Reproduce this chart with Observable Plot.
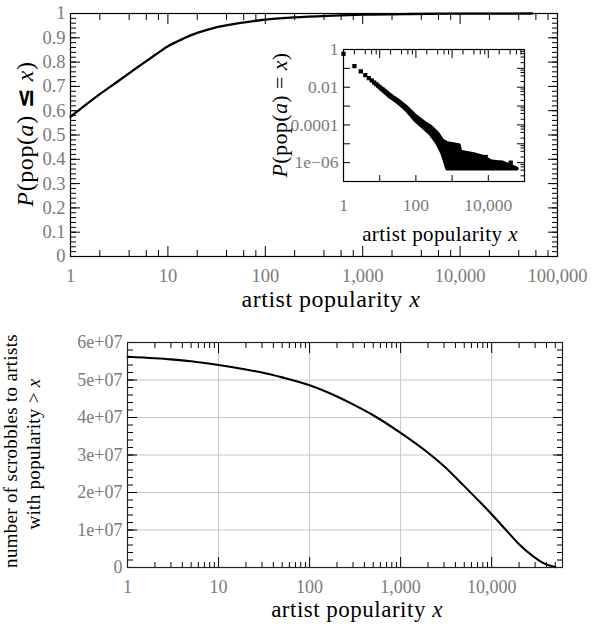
<!DOCTYPE html>
<html><head><meta charset="utf-8">
<script src="https://cdn.jsdelivr.net/npm/d3@7"></script>
<script src="https://cdn.jsdelivr.net/npm/@observablehq/plot@0.6"></script>
<style>
body{margin:0;background:#fff}
#wrap{position:relative;width:609px;height:630px;overflow:hidden;background:#fff}
#wrap svg{position:absolute}
</style></head><body><div id="wrap"></div>
<script>
// ---------- data ----------
// top chart: cumulative distribution P(pop(a) <= x)
const cdfX = [1, 2, 3, 4, 5, 6, 7, 8, 10, 13, 15, 20, 30, 50, 70, 100, 200, 500, 1000, 3000, 10000, 55000];
const cdfY = [0.575, 0.668, 0.718, 0.754, 0.782, 0.804, 0.823, 0.839, 0.865, 0.888, 0.9, 0.92, 0.941, 0.958, 0.967, 0.975, 0.984, 0.991, 0.995, 0.998, 0.9993, 1.0];

// inset: P(pop(a) = x) — discrete points for small x
const pmfX = [1, 2, 3, 4, 5, 6, 7, 8, 9, 10, 11, 12, 13, 14, 15, 16, 17, 18, 19, 20];
const pmfY = [0.589, 0.132, 0.0692, 0.0437, 0.0302, 0.0229, 0.0178, 0.0145, 0.0120, 0.0100,
              0.00851, 0.00759, 0.00661, 0.00589, 0.00525, 0.00479, 0.00427, 0.00389, 0.00355, 0.00331];
// inset: dense scatter band (upper / lower envelope of the points)
const bandX  = [20, 31.6, 56.2, 100, 178, 263, 398, 550, 759, 1585, 1738, 4074, 7586, 11749, 27542, 63096];
const bandHi = [3.55e-3, 2.0e-3, 8.32e-4, 2.82e-4, 1.20e-4, 7.59e-5, 3.55e-5, 1.41e-5, 1.0e-5, 7.94e-6, 3.55e-6, 2.63e-6, 1.91e-6, 1.12e-6, 8.91e-7, 4.57e-7];
const bandLo = [3.02e-3, 1.58e-3, 6.03e-4, 1.66e-4, 6.31e-5, 3.16e-5, 1.07e-5, 3.16e-6, 4.57e-7, 4.57e-7, 4.57e-7, 4.57e-7, 4.57e-7, 4.57e-7, 4.57e-7, 4.57e-7];
const outX = [8511, 22387, 41687];
const outY = [2.0e-6, 1.0e-6, 1.0e-6];

// bottom chart: scrobbles to artists with popularity > x
const scrX = [1, 2, 3, 5, 10, 20, 30, 50, 100, 200, 300, 500, 1000, 2000, 3000, 5000, 7000, 10000, 15000, 20000, 30000, 35000, 40000, 45000, 50000];
const scrY = [5.62e7, 5.58e7, 5.55e7, 5.50e7, 5.40e7, 5.28e7, 5.20e7, 5.07e7, 4.86e7, 4.56e7, 4.35e7, 4.06e7, 3.59e7, 3.06e7, 2.70e7, 2.17e7, 1.81e7, 1.42e7, 0.95e7, 0.62e7, 0.26e7, 0.15e7, 0.08e7, 0.04e7, 0.01e7];

// tick labels
const topXTicks = [1, 10, 100, 1000, 10000, 100000];
const topXLabels = ["1", "10", "100", "1,000", "10,000", "100,000"];
const topYTicks = [0, 0.1, 0.2, 0.3, 0.4, 0.5, 0.6, 0.7, 0.8, 0.9, 1];
const topYLabels = ["0", "0.1", "0.2", "0.3", "0.4", "0.5", "0.6", "0.7", "0.8", "0.9", "1"];
const insXTicks = [1, 100, 10000];
const insXLabels = ["1", "100", "10,000"];
const insYTicks = [1, 0.01, 0.0001, 0.000001];
const insYLabels = ["1", "0.01", "0.0001", "1e\u221206"];
const botXTicks = [1, 10, 100, 1000, 10000];
const botXLabels = ["1", "10", "100", "1,000", "10,000"];
const botYTicks = [0, 1e7, 2e7, 3e7, 4e7, 5e7, 6e7];
const botYLabels = ["0", "1e+07", "2e+07", "3e+07", "4e+07", "5e+07", "6e+07"];

// ---------- helpers ----------
const decades = (a, b) => d3.range(a, b + 1).map(e => Math.pow(10, e));
const minors = (a, b, mult) => decades(a, b).flatMap(d => mult.map(m => m * d));
const GRAY = "#7a7a7a";
const zip = (xs, ys) => xs.map((x, i) => ({x, y: ys[i]}));

function tx(values, anchor, size) {
  return Plot.axisX(values, {anchor, tickSize: -size, fill: "none", stroke: "black", label: null});
}
function ty(values, anchor, size) {
  return Plot.axisY(values, {anchor, tickSize: -size, fill: "none", stroke: "black", label: null});
}
function lx(values, labels, pad, fs) {
  const m = new Map(values.map((v, i) => [v, labels[i]]));
  return Plot.axisX(values, {anchor: "bottom", tickSize: 0, tickPadding: pad, tickFormat: d => m.get(d), fill: GRAY, fontSize: fs, label: null});
}
function ly(values, labels, pad, fs) {
  const m = new Map(values.map((v, i) => [v, labels[i]]));
  return Plot.axisY(values, {anchor: "left", tickSize: 0, tickPadding: pad, tickFormat: d => m.get(d), fill: GRAY, fontSize: fs, label: null});
}
function addText(svg, x, y, rot, size, ls, parts) {
  const g = d3.select(svg).append("g").attr("transform", `translate(${x},${y}) rotate(${rot})`);
  const t = g.append("text").attr("text-anchor", "middle").attr("font-size", size)
    .attr("letter-spacing", ls)
    .attr("font-family", "Liberation Serif").attr("fill", "black");
  for (const [s, st] of parts) {
    const sp = t.append("tspan").text(s);
    if (st === "i") sp.attr("font-style", "italic");
    if (st === "s") sp.attr("font-family", "DejaVu Sans").attr("font-weight", "bold");
  }
}
const svgStyle = (l, t) => ({position: "absolute", left: l + "px", top: t + "px", background: "transparent", fontFamily: "Liberation Serif", overflow: "visible"});

const wrap = document.getElementById("wrap");

// ---------- top chart ----------
const topSvg = Plot.plot({
  width: 609, height: 320,
  marginLeft: 70, marginRight: 52, marginTop: 13, marginBottom: 64,
  style: svgStyle(0, 0),
  x: {type: "log", domain: [1, 1e5]},
  y: {domain: [0, 1]},
  marks: [
    Plot.line(zip(cdfX, cdfY), {x: "x", y: "y", stroke: "black", strokeWidth: 2.3, curve: "monotone-x"}),
    tx(decades(0, 5), "bottom", 10), tx(minors(0, 4, [2, 4, 6, 8]), "bottom", 6),
    tx(decades(0, 5), "top", 10), tx(minors(0, 4, [2, 4, 6, 8]), "top", 6),
    ty(topYTicks, "left", 10), ty(d3.range(0, 50).map(i => i * 0.02), "left", 6),
    ty(topYTicks, "right", 10), ty(d3.range(0, 50).map(i => i * 0.02), "right", 6),
    lx(topXTicks, topXLabels, 12, 18.5),
    ly(topYTicks, topYLabels, 5, 18.5),
    Plot.frame({stroke: "black", strokeWidth: 1.2})
  ]
});
addText(topSvg, 33, 134, -90, 24, 0.6, [["P", "i"], ["(pop(", ""], ["a", "i"], [") ", ""], ["\u2264", "s"], [" ", ""], ["x", "i"], [")", ""]]);
addText(topSvg, 331, 307, 0, 24, 0.5, [["artist popularity ", ""], ["x", "i"]]);
wrap.appendChild(topSvg);

// ---------- inset ----------
const insSvg = Plot.plot({
  width: 290, height: 225,
  marginLeft: 93, marginRight: 16, marginTop: 19, marginBottom: 74,
  style: svgStyle(250, 30),
  x: {type: "log", domain: [1, 1e5]},
  y: {type: "log", domain: [1e-7, 1]},
  marks: [
    Plot.areaY(bandX.map((x, i) => ({x, lo: bandLo[i], hi: bandHi[i]})), {x: "x", y1: "lo", y2: "hi", fill: "black", stroke: "black", strokeWidth: 4}),
    Plot.dot(zip(pmfX, pmfY), {x: "x", y: "y", symbol: "square", r: 2.4, fill: "black"}),
    Plot.dot(zip(outX, outY), {x: "x", y: "y", symbol: "square", r: 2.4, fill: "black"}),
    tx(decades(1, 4), "bottom", 6),
    tx(decades(0, 5), "top", 8), tx(minors(0, 4, [2, 4, 6, 8]), "top", 4.5),
    ty(decades(-7, 0), "left", 7),
    ty(decades(-7, 0), "right", 8), ty(minors(-7, -1, [2, 4, 6, 8]), "right", 4.5),
    lx(insXTicks, insXLabels, 17, 17.5),
    ly(insYTicks, insYLabels, 5, 17.5),
    Plot.frame({stroke: "black", strokeWidth: 1.2})
  ]
});
addText(insSvg, 37, 85, -90, 22, 0.4, [["P", "i"], ["(pop(", ""], ["a", "i"], [") = ", ""], ["x", "i"], [")", ""]]);
addText(insSvg, 190, 211, 0, 21, 0.4, [["artist popularity ", ""], ["x", "i"]]);
wrap.appendChild(insSvg);

// ---------- bottom chart ----------
const botSvg = Plot.plot({
  width: 609, height: 310,
  marginLeft: 127, marginRight: 47, marginTop: 22, marginBottom: 63,
  style: svgStyle(0, 320),
  x: {type: "log", domain: [1, 60000]},
  y: {domain: [0, 6e7]},
  marks: [
    Plot.gridX(decades(1, 4), {stroke: "#c8c8c8", strokeOpacity: 1}),
    Plot.gridY(botYTicks.slice(1, 6), {stroke: "#c8c8c8", strokeOpacity: 1}),
    Plot.line(zip(scrX, scrY), {x: "x", y: "y", stroke: "black", strokeWidth: 2.1, curve: "monotone-x"}),
    tx(decades(0, 4), "bottom", 10), tx(minors(0, 4, [2, 3, 4, 5, 6, 7, 8, 9]).filter(v => v < 60000), "bottom", 5),
    tx(decades(0, 4), "top", 10), tx(minors(0, 4, [2, 3, 4, 5, 6, 7, 8, 9]).filter(v => v < 60000), "top", 5),
    ty(botYTicks, "left", 10), ty(d3.range(0, 30).map(i => i * 2e6), "left", 6),
    ty(botYTicks, "right", 10), ty(d3.range(0, 30).map(i => i * 2e6), "right", 6),
    lx(botXTicks, botXLabels, 13, 18),
    ly(botYTicks, botYLabels, 5, 18),
    Plot.frame({stroke: "#222", strokeWidth: 1.2})
  ]
});
addText(botSvg, 17, 131, -90, 19, 0.3, [["number of scrobbles to artists", ""]]);
addText(botSvg, 40, 134, -90, 19, 0.3, [["with popularity > ", ""], ["x", "i"]]);
addText(botSvg, 357, 297, 0, 23, 0.5, [["artist popularity ", ""], ["x", "i"]]);
wrap.appendChild(botSvg);
</script></body></html>
